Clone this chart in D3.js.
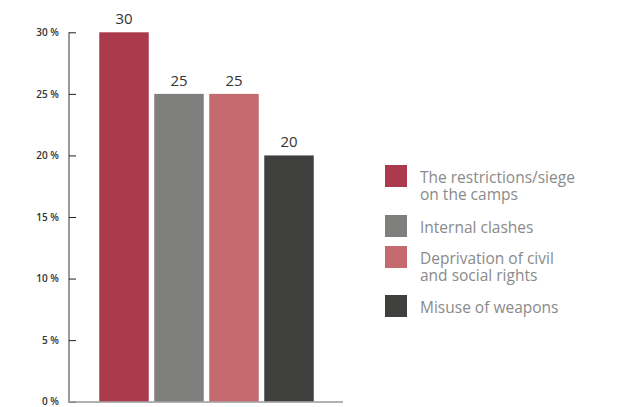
<!DOCTYPE html>
<html><head><meta charset="utf-8">
<script src="https://cdn.jsdelivr.net/npm/d3@7"></script>
<style>
html,body{margin:0;padding:0;background:#fff;}
svg{display:block;}
</style></head>
<body>
<svg id="chart" width="617" height="407"></svg>
<script>
const categories = ["The restrictions/siege on the camps", "Internal clashes", "Deprivation of civil and social rights", "Misuse of weapons"];
const legendLines = [["The restrictions/siege", "on the camps"], ["Internal clashes"], ["Deprivation of civil", "and social rights"], ["Misuse of weapons"]];
const values = [30, 25, 25, 20];
const colors = ["#ab3b4c", "#7f7f7e", "#c56a6f", "#3f3f3d"];
const tickValues = [0, 5, 10, 15, 20, 25, 30];

const svg = d3.select("#chart");
const y = d3.scaleLinear().domain([0, 30]).range([401.7, 32.3]);
const x = d3.scaleBand().domain(categories).range([96.5, 316.5]).paddingInner(0.1).paddingOuter(0.05);

// bars
svg.selectAll("rect.bar").data(values).join("rect")
  .attr("class", "bar")
  .attr("x", (d, i) => x(categories[i]))
  .attr("width", x.bandwidth())
  .attr("y", d => y(d))
  .attr("height", d => y(0) - y(d))
  .attr("fill", (d, i) => colors[i]);

// value labels
svg.selectAll("text.val").data(values).join("text")
  .attr("class", "val")
  .attr("x", (d, i) => x(categories[i]) + x.bandwidth() / 2)
  .attr("y", d => y(d) - 8)
  .attr("text-anchor", "middle")
  .attr("font-family", "'Open Sans', sans-serif")
  .attr("font-size", 15)
  .attr("fill", "#333")
  .text(d => d);

// y axis
const axis = d3.axisLeft(y).tickValues(tickValues).tickSize(-7).tickPadding(17)
  .tickFormat(d => d + " %");
const g = svg.append("g").attr("transform", "translate(69,0)").call(axis);
g.select(".domain").attr("stroke", "#999").attr("stroke-width", 2).attr("d", `M0,${y(30)}V${y(0)}`);
g.selectAll(".tick line").attr("stroke", "#222").attr("stroke-width", 1);
g.selectAll(".tick text")
  .attr("font-family", "'Open Sans', sans-serif")
  .attr("font-size", 10)
  .attr("font-weight", 600)
  .attr("fill", "#333")
  .attr("x", -10);

// baseline
svg.append("line")
  .attr("x1", 68).attr("x2", 343)
  .attr("y1", y(0) + 0.3).attr("y2", y(0) + 0.3)
  .attr("stroke", "#999").attr("stroke-width", 1.5);

// legend
const legY = [165, 215, 246, 295];
const leg = svg.selectAll("g.leg").data(categories).join("g")
  .attr("class", "leg")
  .attr("transform", (d, i) => `translate(385,${legY[i]})`);
leg.append("rect").attr("width", 22).attr("height", 22).attr("fill", (d, i) => colors[i]);
leg.each(function(d, i) {
  const t = d3.select(this).append("text")
    .attr("font-family", "'Open Sans', sans-serif")
    .attr("font-size", 15.5)
    .attr("fill", "#8a8a8a");
  legendLines[i].forEach((ln, j) => {
    t.append("tspan").attr("x", 35).attr("y", 17.5 + j * 17.5).text(ln);
  });
});
</script>
</body></html>
